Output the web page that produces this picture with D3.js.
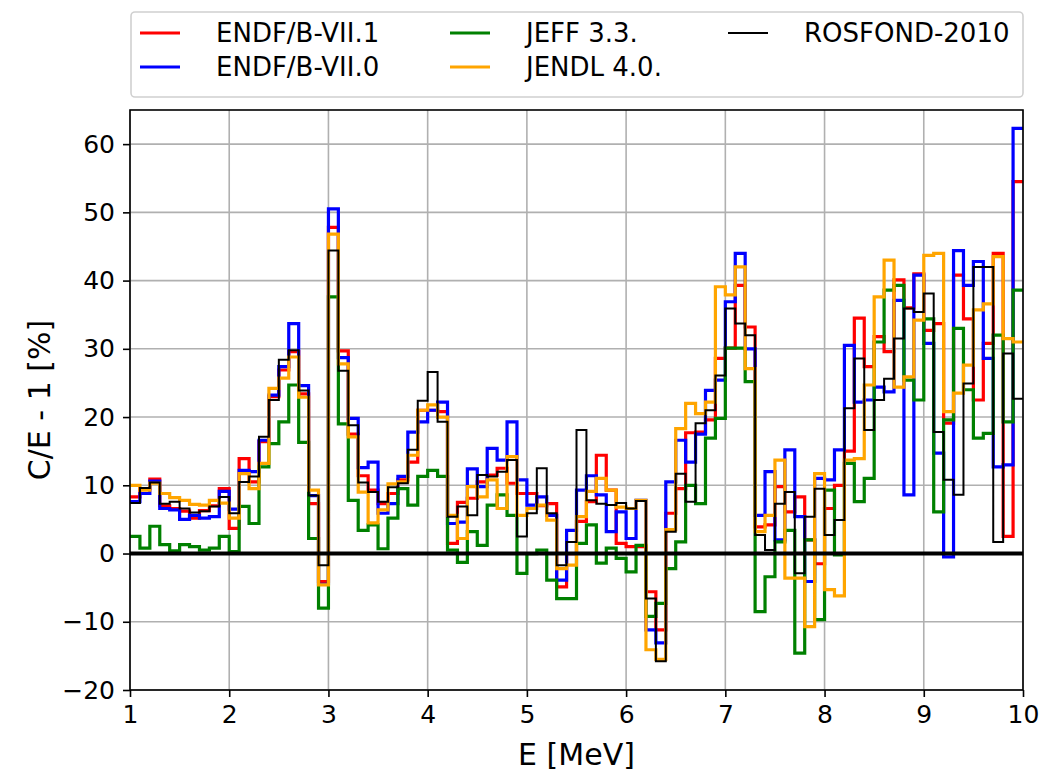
<!DOCTYPE html>
<html>
<head>
<meta charset="utf-8">
<script src="https://cdn.jsdelivr.net/npm/d3@7"></script>
<style>
  body { margin: 0; background: #fff; }
  text { font-family: "DejaVu Sans", sans-serif; }
</style>
</head>
<body>
<div id="chart"></div>
<script>
// bin edges: 0.1 MeV wide bins from 1 to 10 MeV
const binEdges = d3.range(0, 91).map(i => +(1 + i * 0.1).toFixed(1));

const seriesNames = ["ENDF/B-VII.1", "ENDF/B-VII.0", "JEFF 3.3.", "JENDL 4.0.", "ROSFOND-2010"];
const seriesColors = ["#ff0000", "#0000ff", "#008000", "#ffa500", "#000000"];

const endf71 = [
    8.3, 9.5, 10.9, 7.0, 6.6, 6.2, 5.2, 6.3, 7.0, 9.5,
    3.7, 13.9, 10.5, 16.4, 23.0, 26.9, 29.6, 23.4, 7.3, -4.1,
    47.8, 29.7, 17.5, 11.4, 9.3, 7.3, 8.8, 10.8, 13.4, 21.0,
    21.0, 20.8, 1.5, 7.5, 8.1, 10.5, 11.5, 12.5, 10.3, 8.8,
    8.8, 7.0, 7.3, -4.9, 0.0, 4.7, 7.6, 14.4, 9.3, 1.5,
    1.0, 1.0, -5.6, -11.2, 5.9, 9.5, 17.7, 17.8, 19.6, 28.6,
    30.1, 39.3, 33.2, 3.9, 4.2, 9.8, 6.1, 8.3, 2.0, -1.5,
    6.6, 10.0, 15.0, 34.5, 27.4, 31.8, 29.6, 40.1, 36.0, 41.0,
    32.7, 33.7, 19.1, 40.8, 34.4, 22.5, 30.8, 44.0, 2.5, 54.5
];
const endf70 = [
    7.6, 8.8, 10.6, 6.6, 6.4, 5.0, 5.6, 5.2, 5.4, 9.1,
    6.5, 12.2, 12.0, 16.6, 23.2, 27.4, 33.7, 24.6, 8.5, -4.5,
    50.5, 28.7, 19.8, 12.6, 13.4, 5.9, 7.3, 11.3, 17.8, 19.3,
    21.0, 22.2, 4.4, 4.6, 12.4, 9.8, 15.4, 13.7, 19.3, 10.8,
    7.1, 8.3, 5.6, -3.9, 3.4, 9.3, 11.4, 8.6, 3.2, 6.1,
    2.2, 7.8, -11.2, -13.1, 10.5, 16.6, 13.4, 17.5, 23.9, 25.4,
    36.9, 44.0, 30.0, 5.6, 12.0, 2.0, 15.2, 5.4, -4.1, 11.0,
    10.8, 15.2, 30.5, 22.2, 22.5, 24.4, 23.7, 37.1, 8.6, 40.8,
    30.8, 14.7, -0.5, 44.4, 39.3, 42.8, 28.6, 12.7, 13.0, 62.3
];
const jeff33 = [
    2.5, 0.8, 4.0, 1.3, 0.4, 1.3, 1.0, 0.5, 0.8, 2.5,
    0.3, 6.9, 4.4, 12.7, 16.1, 19.3, 24.7, 16.3, 2.2, -8.0,
    37.6, 19.0, 7.8, 3.4, 4.2, 0.7, 5.2, 9.5, 7.1, 11.3,
    12.2, 11.3, 0.5, -1.3, 3.2, 1.2, 7.1, 8.6, 5.6, -2.9,
    0.0, 0.5, -3.9, -6.6, -6.6, 1.5, 4.2, -1.4, 0.8, -0.7,
    -2.7, 1.2, -9.2, -7.3, -2.2, 1.7, 10.0, 7.3, 16.9, 19.8,
    30.1, 30.1, 25.2, -8.5, -3.4, 1.7, 3.4, -14.6, 2.0, -9.7,
    9.3, -0.2, 13.2, 7.6, 11.0, 31.0, 38.6, 39.3, 25.4, 22.5,
    34.4, 6.1, 19.6, 33.0, 24.0, 16.9, 17.6, 32.0, 19.3, 38.6
];
const jendl40 = [
    10.0, 9.3, 10.3, 8.8, 8.2, 7.8, 7.2, 7.1, 7.8, 7.4,
    5.2, 11.7, 9.5, 13.2, 24.2, 25.7, 28.8, 22.9, 9.3, -4.6,
    46.8, 27.8, 17.1, 9.0, 4.5, 6.4, 10.2, 10.5, 14.4, 21.0,
    21.8, 20.0, 5.6, 2.2, 9.8, 8.3, 10.8, 6.6, 14.2, 5.6,
    6.6, 7.1, 4.9, -2.2, -1.7, 5.4, 9.1, 11.0, 9.3, 6.8,
    6.6, 7.8, -14.1, -15.5, 3.5, 18.3, 22.0, 20.5, 22.2, 39.1,
    37.9, 42.0, 27.1, 3.2, 5.6, 13.7, -3.6, -3.6, -10.7, 11.7,
    -5.3, -6.2, 13.7, 13.9, 24.7, 37.6, 43.0, 24.4, 25.9, 34.2,
    43.7, 44.0, 20.8, 23.5, 27.6, 35.7, 36.6, 43.5, 31.5, 31.0
];
const rosfond = [
    7.4, 9.6, 10.4, 7.3, 7.6, 6.6, 6.0, 6.2, 6.9, 8.3,
    5.9, 10.5, 11.3, 17.1, 22.5, 28.4, 29.8, 23.9, 8.5, -1.7,
    44.4, 26.8, 18.8, 10.4, 9.0, 7.6, 9.7, 10.3, 15.2, 22.4,
    26.6, 19.3, 5.4, 6.9, 5.6, 11.5, 11.3, 12.0, 13.7, 2.5,
    5.9, 12.5, 5.9, -1.7, 1.7, 18.1, 7.8, 7.3, 7.1, 7.4,
    6.6, 7.7, -6.6, -15.8, 3.2, 11.7, 7.6, 19.1, 21.0, 26.1,
    35.9, 33.7, 32.0, 2.7, 0.5, 7.3, 9.0, -2.9, 5.4, 9.5,
    2.7, 4.9, 21.3, 28.6, 18.1, 22.5, 25.6, 31.5, 35.9, 35.4,
    38.1, 17.8, 10.8, 8.6, 24.9, 42.0, 42.0, 1.7, 29.3, 22.7
];
const seriesValues = [endf71, endf70, jeff33, jendl40, rosfond];

const xTicks = [1, 2, 3, 4, 5, 6, 7, 8, 9, 10];
const yTicks = [-20, -10, 0, 10, 20, 30, 40, 50, 60];

const W = 1043, H = 776;
const margin = {top: 110, right: 20, bottom: 86, left: 130};
const width = W - margin.left - margin.right;
const height = H - margin.top - margin.bottom;

const svg = d3.select("#chart").append("svg")
    .attr("width", W)
    .attr("height", H);

const g = svg.append("g")
    .attr("transform", `translate(${margin.left},${margin.top})`);

const x = d3.scaleLinear().domain([1, 10]).range([0, width]);
const y = d3.scaleLinear().domain([-20, 65]).range([height, 0]);

// grid
g.append("g").selectAll("line.vgrid")
    .data(xTicks)
    .enter().append("line")
    .attr("x1", d => x(d)).attr("x2", d => x(d))
    .attr("y1", 0).attr("y2", height)
    .attr("stroke", "#b0b0b0").attr("stroke-width", 1.6);

g.append("g").selectAll("line.hgrid")
    .data(yTicks)
    .enter().append("line")
    .attr("x1", 0).attr("x2", width)
    .attr("y1", d => y(d)).attr("y2", d => y(d))
    .attr("stroke", "#b0b0b0").attr("stroke-width", 1.6);

// step lines
const line = d3.line()
    .x(d => x(d[0]))
    .y(d => y(d[1]))
    .curve(d3.curveStepAfter);

seriesValues.forEach((vals, k) => {
    const pts = vals.map((v, i) => [binEdges[i], v]);
    pts.push([binEdges[vals.length], vals[vals.length - 1]]);
    g.append("path")
        .datum(pts)
        .attr("fill", "none")
        .attr("stroke", seriesColors[k])
        .attr("stroke-width", k === 4 ? 2.0 : 3.2)
        .attr("d", line);
});

// zero line
g.append("line")
    .attr("x1", 0).attr("x2", width)
    .attr("y1", y(0)).attr("y2", y(0))
    .attr("stroke", "#000").attr("stroke-width", 4);

// axes
const xAxis = g.append("g")
    .attr("transform", `translate(0,${height})`)
    .call(d3.axisBottom(x).tickValues(xTicks).tickSize(7).tickPadding(8).tickFormat(d3.format("d")));
const yAxis = g.append("g")
    .call(d3.axisLeft(y).tickValues(yTicks).tickSize(7).tickPadding(8)
        .tickFormat(d => d < 0 ? "\u2212" + Math.abs(d) : d));

[xAxis, yAxis].forEach(a => {
    a.select(".domain").remove();
    a.selectAll("line").attr("stroke", "#000").attr("stroke-width", 1.6);
    a.selectAll("text").attr("font-size", "25px").attr("fill", "#000")
        .style("font-family", "DejaVu Sans, sans-serif");
});

g.append("rect")
    .attr("width", width).attr("height", height)
    .attr("fill", "none").attr("stroke", "#000").attr("stroke-width", 1.6);

// axis labels
svg.append("text")
    .attr("x", margin.left + width / 2)
    .attr("y", 765)
    .attr("text-anchor", "middle")
    .attr("font-size", "30px")
    .text("E [MeV]");

svg.append("text")
    .attr("transform", `translate(50,${margin.top + height / 2}) rotate(-90)`)
    .attr("text-anchor", "middle")
    .attr("font-size", "30px")
    .text("C/E - 1 [%]");

// legend
const legend = svg.append("g");
legend.append("rect")
    .attr("x", 131).attr("y", 12)
    .attr("width", 892).attr("height", 85)
    .attr("rx", 4)
    .attr("fill", "#fff").attr("stroke", "#d0d0d0").attr("stroke-width", 1.6);

const legendCols = [140, 450, 728];
const legendRows = [33, 67];
seriesNames.forEach((name, k) => {
    const col = Math.floor(k / 2), row = k % 2;
    const lx = legendCols[col], ly = legendRows[row];
    legend.append("line")
        .attr("x1", lx).attr("x2", lx + 40)
        .attr("y1", ly).attr("y2", ly)
        .attr("stroke", seriesColors[k])
        .attr("stroke-width", k === 4 ? 2.0 : 3.2);
    legend.append("text")
        .attr("x", lx + 76).attr("y", ly)
        .attr("dy", "0.36em")
        .attr("font-size", "26px")
        .text(name);
});
</script>
</body>
</html>
